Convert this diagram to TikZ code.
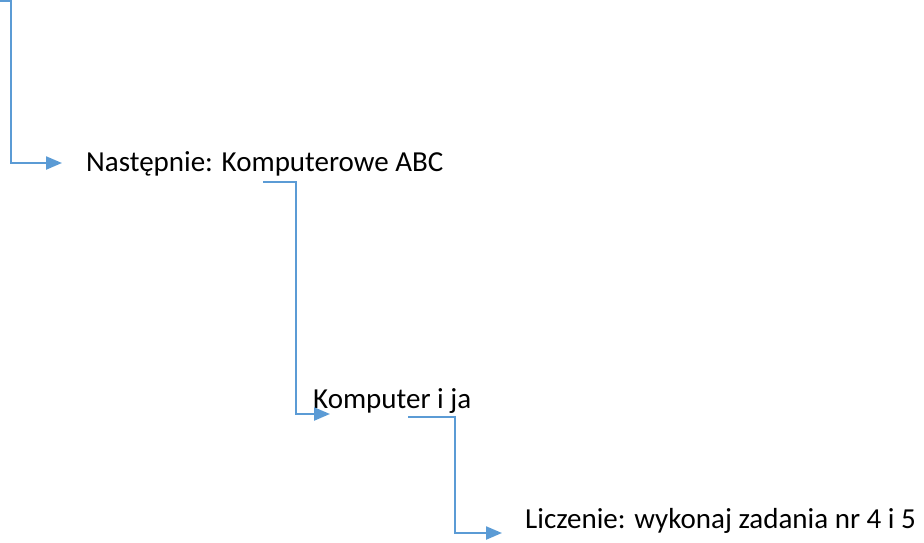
\documentclass[tikz,border=0pt]{standalone}
\usepackage{fontspec}
\setmainfont{Carlito}
\usetikzlibrary{arrows.meta}
\definecolor{conncol}{HTML}{5B9BD5}
\tikzset{
  conn/.style={draw=conncol, line width=2.25pt, -{Triangle[length=16pt,width=13pt]}},
  lbl/.style={anchor=base west, inner sep=0pt, font=\fontsize{29}{35}\selectfont, text=black}
}
\begin{document}
\begin{tikzpicture}[x=1pt,y=-1pt]
\useasboundingbox (0,0) rectangle (924,542);
\node[lbl] (n1) at (86,171) {Następnie: Komputerowe ABC};
\node[lbl] (n2) at (313,408) {Komputer i ja};
\node[lbl] (n3) at (525,528) {Liczenie: wykonaj zadania nr 4 i 5};
\coordinate (s1) at (0,1);
\coordinate (e1) at (62,163);
\coordinate (s2) at (263,182);
\coordinate (e2) at (330,414);
\coordinate (s3) at (408,417);
\coordinate (e3) at (502,533);
\draw[conn] (s1) -- (11,1) |- (e1);
\draw[conn] (s2) -- (296,182) |- (e2);
\draw[conn] (s3) -- (455,417) |- (e3);
\end{tikzpicture}
\end{document}
